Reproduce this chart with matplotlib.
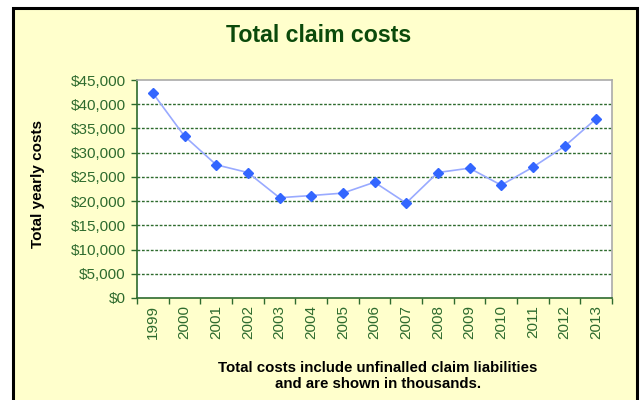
import numpy as np
import matplotlib.pyplot as plt
from matplotlib.patches import Rectangle
from matplotlib.ticker import FuncFormatter, FixedLocator

years = ['1999', '2000', '2001', '2002', '2003', '2004', '2005', '2006',
         '2007', '2008', '2009', '2010', '2011', '2012', '2013']
costs = [42300, 33400, 27500, 25900, 20700, 21150, 21650, 23900,
         19600, 25900, 26800, 23300, 27000, 31300, 37000]

green = '#2e6b2e'
bg = '#ffffcc'

plt.rcParams['font.family'] = ['Liberation Sans', 'DejaVu Sans']

fig = plt.figure(figsize=(6.44, 4.0), dpi=100)
fig.patch.set_facecolor('white')

# chart area frame
fig.patches.append(Rectangle((13 / 644, -0.05), 624 / 644, 1 - 8 / 400 + 0.05,
                             transform=fig.transFigure, facecolor=bg,
                             edgecolor='black', linewidth=2.2, zorder=-1))

ax = fig.add_axes([137 / 644, 1 - 298 / 400, 475 / 644, 218 / 400])
ax.set_facecolor('white')

x = np.arange(len(years))
ax.plot(x, costs, color='#99aaff', lw=1.2, marker='D', ms=5,
        mfc='#3366ff', mec='#3366ff', zorder=3)

ax.set_xlim(-0.5, len(years) - 0.5)
ax.set_ylim(0, 45000)
ax.yaxis.set_major_locator(FixedLocator(np.arange(0, 45001, 5000)))
ax.yaxis.set_major_formatter(FuncFormatter(lambda v, p: f'${v:,.0f}'))
ax.set_xticks(x)
ax.set_xticklabels(years, rotation=90)
ax.xaxis.set_minor_locator(FixedLocator(np.arange(-0.5, len(years), 1)))

ax.tick_params(axis='y', colors=green, labelsize=11, length=4, width=1, direction='out', pad=4)
ax.tick_params(axis='x', which='major', length=0, colors=green, labelsize=11, pad=5)
ax.tick_params(axis='x', which='minor', length=4, width=1, color=green, direction='out')

for y in np.arange(5000, 45000, 5000):
    ax.axhline(y, color=green, lw=1.0, ls=(0, (2, 1.2)), zorder=1)

ax.spines['left'].set_color(green)
ax.spines['bottom'].set_color(green)
ax.spines['top'].set_color('#aaaaaa')
ax.spines['right'].set_color('#aaaaaa')
for s in ax.spines.values():
    s.set_linewidth(1.2)

fig.text(319 / 644, 1 - 35 / 400, 'Total claim costs', ha='center', va='center',
         fontsize=16.7, fontweight='bold', color='#0b4a0b')
fig.text(38 / 644, 1 - 184 / 400, 'Total yearly costs', ha='center', va='center',
         rotation=90, fontsize=11, fontweight='bold', color='black')
fig.text(378 / 644, 1 - 376 / 400,
         'Total costs include unfinalled claim liabilities\nand are shown in thousands.',
         ha='center', va='center', fontsize=10.8, fontweight='bold', color='black',
         linespacing=1.25)

fig.savefig('out.png', dpi=100)
